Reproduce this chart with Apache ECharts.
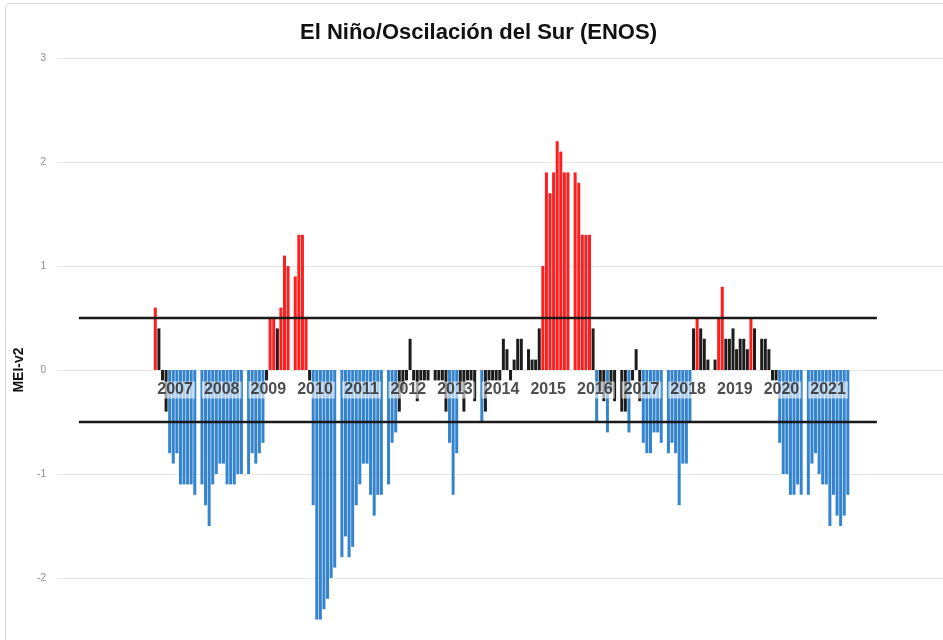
<!DOCTYPE html>
<html>
<head>
<meta charset="utf-8">
<script src="https://cdn.jsdelivr.net/npm/echarts@6/dist/echarts.min.js"></script>
<style>
html,body{margin:0;padding:0;background:#fff;}
#chart{width:943px;height:640px;}
</style>
</head>
<body>
<div id="chart"></div>
<script>
// ---- Data (MEI-v2, monthly) ----
const years = [2007, 2008, 2009, 2010, 2011, 2012, 2013, 2014, 2015, 2016, 2017, 2018, 2019, 2020, 2021];
const v2007 = [0.6, 0.4, -0.1, -0.4, -0.8, -0.9, -0.8, -1.1, -1.1, -1.1, -1.1, -1.2];
const v2008 = [-1.1, -1.3, -1.5, -1.1, -1.0, -0.9, -0.9, -1.1, -1.1, -1.1, -1.0, -1.0];
const v2009 = [-1.0, -0.8, -0.9, -0.8, -0.7, -0.1, 0.5, 0.5, 0.4, 0.6, 1.1, 1.0];
const v2010 = [0.9, 1.3, 1.3, 0.5, -0.1, -1.3, -2.4, -2.4, -2.3, -2.2, -2.0, -1.9];
const v2011 = [-1.8, -1.6, -1.8, -1.7, -1.3, -1.1, -0.9, -0.9, -1.2, -1.4, -1.2, -1.2];
const v2012 = [-1.1, -0.7, -0.6, -0.4, -0.2, -0.1, 0.3, -0.1, -0.3, -0.1, -0.1, -0.1];
const v2013 = [-0.1, -0.1, -0.1, -0.4, -0.7, -1.2, -0.8, -0.2, -0.4, -0.1, -0.1, -0.3];
const v2014 = [-0.5, -0.4, -0.1, -0.1, -0.1, -0.1, 0.3, 0.2, -0.1, 0.1, 0.3, 0.3];
const v2015 = [0.2, 0.1, 0.1, 0.4, 1.0, 1.9, 1.7, 1.9, 2.2, 2.1, 1.9, 1.9];
const v2016 = [1.9, 1.8, 1.3, 1.3, 1.3, 0.4, -0.5, -0.2, -0.3, -0.6, -0.2, -0.3];
const v2017 = [-0.4, -0.4, -0.6, -0.1, 0.2, -0.3, -0.7, -0.8, -0.8, -0.6, -0.6, -0.7];
const v2018 = [-0.8, -0.7, -0.8, -1.3, -0.9, -0.9, -0.5, 0.4, 0.5, 0.4, 0.3, 0.1];
const v2019 = [0.1, 0.5, 0.8, 0.3, 0.3, 0.4, 0.2, 0.3, 0.3, 0.2, 0.5, 0.4];
const v2020 = [0.3, 0.3, 0.2, -0.1, -0.1, -0.7, -1.0, -1.0, -1.2, -1.2, -1.1, -1.2];
const v2021 = [-1.2, -0.9, -0.8, -1.0, -1.1, -1.1, -1.5, -1.2, -1.4, -1.5, -1.4, -1.2];
const valuesByYear = [v2007, v2008, v2009, v2010, v2011, v2012, v2013, v2014, v2015, v2016, v2017, v2018, v2019, v2020, v2021];

const ninoThreshold = 0.5;     // upper reference line
const ninaThreshold = -0.5;    // lower reference line
const yTicks = [-3, -2, -1, 0, 1, 2, 3];

// ---- layout helpers (category slots: 12 months + 1 empty slot per year) ----
const slotsPerYear = 13;
const xMin = -27.4, xMax = 225.1;       // visible slot range of the plot
const refLineFrom = -21.3, refLineTo = 201.1; // extent of the +/-0.5 lines in slots

const barData = [];
valuesByYear.forEach((vals, yi) => {
  vals.forEach((v, m) => barData.push([yi * slotsPerYear + m, v]));
});
const yearLabelData = years.map((y, yi) => [yi * slotsPerYear + 5.5, 0, String(y)]);

const RED = '#ff1e1e', BLUE = '#3383cf', BLACK = '#1c1c1c';

const chart = echarts.init(document.getElementById('chart'), null, {renderer: 'canvas'});
chart.setOption({
  animation: false,
  backgroundColor: '#ffffff',
  title: {
    text: 'El Niño/Oscilación del Sur (ENOS)',
    left: 295, top: 17,
    textStyle: {fontFamily: 'Liberation Sans', fontSize: 22, fontWeight: 'bold', color: '#111'}
  },
  graphic: [{
    type: 'rect', silent: true, z: -10,
    shape: {x: 5.5, y: 3.5, width: 990, height: 700, r: 4},
    style: {fill: 'none', stroke: '#d9d9d9', lineWidth: 1}
  }],
  grid: {left: 57, top: 58, width: 906, height: 624, outerBoundsMode: 'none', containLabel: false},
  xAxis: {
    type: 'value', min: xMin, max: xMax, show: false
  },
  yAxis: {
    type: 'value', min: yTicks[0], max: yTicks[yTicks.length - 1], interval: 1,
    name: 'MEI-v2', nameLocation: 'middle', nameGap: 30, nameRotate: 90,
    nameTextStyle: {fontFamily: 'Liberation Sans', fontSize: 14, fontWeight: 'bold', color: '#111'},
    axisLine: {show: false}, axisTick: {show: false},
    axisLabel: {margin: 11, fontFamily: 'Liberation Sans', fontSize: 10, color: '#8f8f8f'},
    splitLine: {lineStyle: {color: '#e6e6e6', width: 1}}
  },
  series: [
    {
      type: 'bar', data: barData, barWidth: 3, z: 2,
      itemStyle: {
        color: p => p.value[1] >= ninoThreshold ? RED : (p.value[1] <= ninaThreshold ? BLUE : BLACK)
      }
    },
    {
      type: 'line', z: 3, symbol: 'none', silent: true,
      data: [[refLineFrom, ninoThreshold], [refLineTo, ninoThreshold]],
      lineStyle: {color: '#1a1a1a', width: 2.6}
    },
    {
      type: 'line', z: 3, symbol: 'none', silent: true,
      data: [[refLineFrom, ninaThreshold], [refLineTo, ninaThreshold]],
      lineStyle: {color: '#1a1a1a', width: 2.6}
    },
    {
      type: 'scatter', z: 4, symbolSize: 1, silent: true,
      itemStyle: {color: 'rgba(0,0,0,0)'},
      data: yearLabelData,
      label: {
        show: true, position: 'inside', offset: [0, 20],
        formatter: p => p.value[2],
        fontFamily: 'Liberation Sans', fontSize: 16, fontWeight: 'bold', color: '#222',
        backgroundColor: 'rgba(255,255,255,0.75)', padding: [1, 2, 0, 2]
      }
    }
  ]
});
</script>
</body>
</html>
